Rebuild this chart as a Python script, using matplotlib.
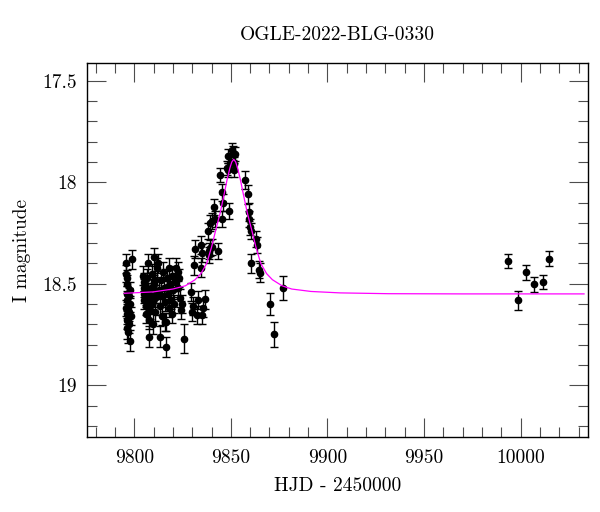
import matplotlib
matplotlib.use("Agg")
import matplotlib.pyplot as plt
from matplotlib.ticker import MultipleLocator, FixedLocator, FixedFormatter

# ---- data ----
hjd = [
    # baseline group 1
    9795.8, 9795.9, 9796.0, 9796.1, 9796.2, 9796.3, 9795.9, 9796.4, 9796.0, 9796.2,
    9796.8, 9797.4, 9797.5, 9797.6, 9797.3, 9797.8, 9798.6, 9797.9, 9798.2,
    # group 2
    9804.5, 9804.8, 9805.0, 9805.3, 9805.2, 9805.6, 9806.0, 9806.3, 9806.0, 9806.8,
    9807.2, 9807.0, 9807.5, 9807.8, 9807.4, 9808.2, 9808.5, 9808.8, 9809.0, 9809.3,
    9809.6, 9810.0, 9810.2, 9810.5, 9810.8, 9811.0, 9811.4, 9811.8,
    # group 3
    9812.4, 9812.8, 9813.2, 9813.5, 9813.8, 9814.2, 9814.6, 9815.0, 9815.4, 9815.8,
    9816.3, 9816.6, 9817.0, 9817.4, 9817.8, 9818.2, 9818.6, 9819.0, 9819.4, 9819.8,
    9820.3, 9820.8, 9821.2, 9821.8, 9822.4, 9822.8, 9823.3, 9823.6, 9816.0, 9816.9,
    # group 4
    9824.3, 9824.7, 9825.5, 9829.5, 9829.8, 9830.3, 9830.7, 9831.6, 9832.4, 9833.0,
    9834.5, 9834.7, 9835.0, 9835.3, 9835.5, 9836.7,
    # rise
    9838.5, 9838.6, 9838.4, 9839.0, 9839.3, 9840.2, 9840.4, 9841.4, 9841.6, 9843.1,
    9844.5, 9845.3, 9845.5, 9846.2, 9847.9, 9848.4, 9848.5, 9849.3, 9850.0, 9850.5,
    9851.0, 9851.4, 9851.8, 9852.2,
    # decline
    9857.4, 9859.1, 9859.2, 9859.4, 9860.0, 9860.5, 9860.4, 9863.0, 9863.5, 9864.6,
    9865.2, 9870.4, 9872.5, 9877.2,
    # late season
    9993.7, 9998.5, 10002.6, 10006.8, 10011.7, 10014.7,
]
mag = [
    18.40, 18.45, 18.47, 18.50, 18.55, 18.58, 18.62, 18.65, 18.68, 18.72,
    18.74, 18.70, 18.64, 18.60, 18.56, 18.78, 18.38, 18.53, 18.66,
    18.46, 18.49, 18.52, 18.55, 18.58, 18.50, 18.57, 18.61, 18.65, 18.47,
    18.40, 18.54, 18.59, 18.68, 18.76, 18.63, 18.52, 18.56, 18.45, 18.60,
    18.70, 18.37, 18.50, 18.57, 18.64, 18.48, 18.55, 18.42,
    18.40, 18.53, 18.61, 18.76, 18.48, 18.56, 18.66, 18.44, 18.52, 18.59,
    18.81, 18.69, 18.47, 18.55, 18.62, 18.42, 18.50, 18.58, 18.65, 18.46,
    18.53, 18.60, 18.49, 18.42, 18.44, 18.52, 18.47, 18.57, 18.69, 18.515,
    18.63, 18.60, 18.77, 18.54, 18.64, 18.61, 18.41, 18.33, 18.655, 18.58,
    18.31, 18.42, 18.35, 18.655, 18.62, 18.577,
    18.34, 18.36, 18.24, 18.20, 18.325, 18.19, 18.32, 18.12, 18.18, 18.34,
    17.965, 18.18, 18.05, 18.10, 17.93, 17.94, 17.87, 18.14, 17.90, 17.84,
    17.855, 17.91, 17.94, 17.86,
    17.99, 18.06, 18.145, 18.18, 18.22, 18.24, 18.40, 18.28, 18.31, 18.43,
    18.445, 18.60, 18.75, 18.52,
    18.388, 18.582, 18.444, 18.503, 18.492, 18.377,
]
err = [
    0.045, 0.04, 0.04, 0.045, 0.04, 0.045, 0.04, 0.05, 0.045, 0.05,
    0.05, 0.045, 0.045, 0.04, 0.04, 0.05, 0.045, 0.04, 0.045,
    0.045, 0.045, 0.045, 0.045, 0.045, 0.045, 0.045, 0.045, 0.045, 0.045,
    0.045, 0.045, 0.045, 0.045, 0.05, 0.045, 0.045, 0.045, 0.045, 0.045,
    0.05, 0.045, 0.045, 0.045, 0.045, 0.045, 0.045, 0.045,
    0.045, 0.045, 0.045, 0.05, 0.045, 0.045, 0.045, 0.045, 0.045, 0.045,
    0.05, 0.045, 0.045, 0.045, 0.045, 0.045, 0.045, 0.045, 0.045, 0.045,
    0.045, 0.045, 0.045, 0.045, 0.045, 0.045, 0.045, 0.045, 0.045, 0.045,
    0.045, 0.045, 0.07, 0.045, 0.045, 0.045, 0.045, 0.045, 0.045, 0.045,
    0.045, 0.045, 0.045, 0.045, 0.045, 0.045,
    0.04, 0.04, 0.04, 0.04, 0.04, 0.04, 0.04, 0.04, 0.04, 0.04,
    0.035, 0.04, 0.04, 0.04, 0.035, 0.035, 0.035, 0.04, 0.035, 0.035,
    0.035, 0.035, 0.035, 0.035,
    0.045, 0.045, 0.045, 0.04, 0.04, 0.04, 0.045, 0.04, 0.04, 0.04,
    0.045, 0.055, 0.06, 0.06,
    0.034, 0.046, 0.036, 0.036, 0.036, 0.036,
]

# model curve
model_t = [9794.8, 9810.0, 9820.0, 9826.5, 9831.5, 9834.5, 9837.5, 9840.0, 9842.2,
           9844.5, 9846.5, 9848.0, 9849.5, 9850.5, 9851.5, 9852.5, 9853.5, 9855.0,
           9856.5, 9858.5, 9860.8, 9863.0, 9865.5, 9868.5, 9871.5, 9876.5, 9881.5,
           9891.5, 9906.5, 9931.5, 9970.0, 10032.8]
model_m = [18.547, 18.540, 18.526, 18.510, 18.480, 18.450, 18.400, 18.320, 18.235,
           18.150, 18.060, 17.990, 17.930, 17.900, 17.887, 17.900, 17.930, 17.990,
           18.060, 18.150, 18.235, 18.320, 18.400, 18.450, 18.480, 18.510, 18.526,
           18.538, 18.545, 18.549, 18.550, 18.550]

title = "OGLE-2022-BLG-0330"
xlabel = "HJD - 2450000"
ylabel = "I magnitude"
yticks = [17.5, 18.0, 18.5, 19.0]
ytick_labels = ["17.5", "18", "18.5", "19"]
xticks = [9800, 9850, 9900, 9950, 10000]
xtick_labels = ["9800", "9850", "9900", "9950", "10000"]

plt.rcParams['font.family'] = ['cmr10', 'DejaVu Serif']
plt.rcParams['axes.formatter.use_mathtext'] = True

fig = plt.figure(figsize=(6.0, 5.12), dpi=100)
ax = fig.add_axes([0.1458, 0.1465, 0.9795 - 0.1458, 0.8775 - 0.1465])

ax.errorbar(hjd, mag, yerr=err, fmt='o', color='black', ms=4.5,
            ecolor='black', elinewidth=1.0, capsize=2.6, capthick=1.0, zorder=3)
ax.plot(model_t, model_m, color='#ff00ff', lw=0.9, zorder=4)

ax.set_xlim(9775.8, 10034.7)
ax.set_ylim(19.255, 17.411)

ax.xaxis.set_major_locator(FixedLocator(xticks))
ax.xaxis.set_major_formatter(FixedFormatter(xtick_labels))
ax.xaxis.set_minor_locator(MultipleLocator(10))
ax.yaxis.set_major_locator(FixedLocator(yticks))
ax.yaxis.set_major_formatter(FixedFormatter(ytick_labels))
ax.yaxis.set_minor_locator(MultipleLocator(0.1))

ax.tick_params(which='both', direction='in', top=True, right=True, color='0.3', width=0.8)
ax.tick_params(which='major', length=13.5)
ax.tick_params(which='minor', length=7.2)
ax.tick_params(axis='x', which='major', pad=9, labelsize=14)
ax.tick_params(axis='y', which='major', pad=7.5, labelsize=14)
for s in ax.spines.values():
    s.set_linewidth(1.0)

fig.text(0.5625, 1 - 35 / 512, title, ha='center', va='center', fontsize=14)
fig.text(0.5625, 1 - 486 / 512, xlabel, ha='center', va='center', fontsize=14)
fig.text(22 / 600, 1 - 250 / 512, ylabel, ha='center', va='center', rotation=90, fontsize=14)

fig.savefig("out.png", dpi=100)
